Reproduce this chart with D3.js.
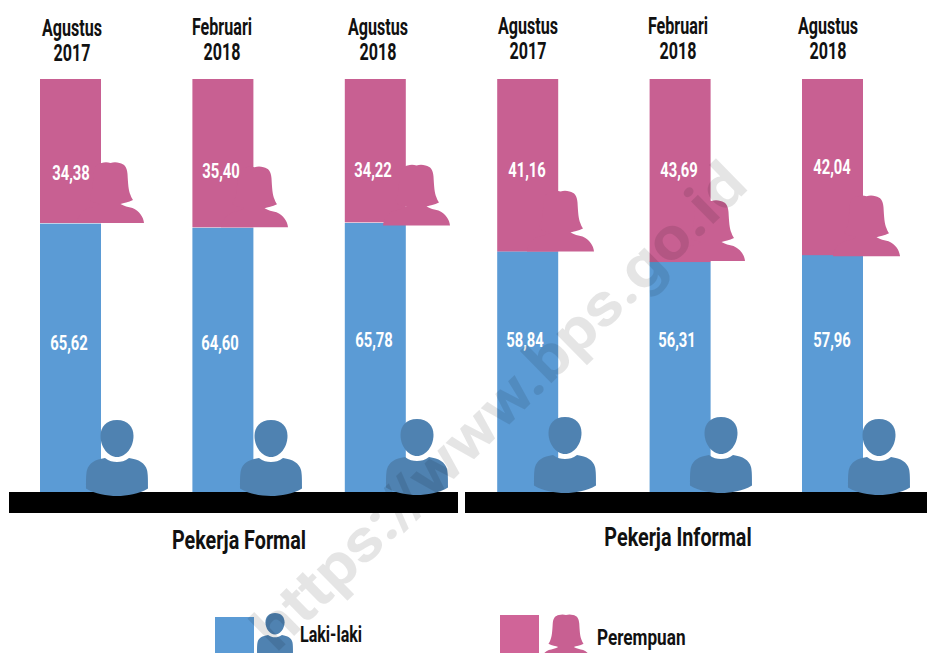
<!DOCTYPE html>
<html><head><meta charset="utf-8">
<script src="https://cdn.jsdelivr.net/npm/d3@7/dist/d3.min.js"></script>
<style>html,body{margin:0;padding:0;background:#fff;overflow:hidden}svg{display:block}
text{font-family:"Roboto",sans-serif;font-weight:700}</style>
</head><body><svg id="c" width="927" height="653"></svg>
<script>
const groups = ["Pekerja Formal","Pekerja Informal"];
const periodsTop = ["Agustus","Februari","Agustus","Agustus","Februari","Agustus"];
const periodsBottom = ["2017","2018","2018","2017","2018","2018"];
const male = [65.62,64.60,65.78,58.84,56.31,57.96];
const female = [34.38,35.40,34.22,41.16,43.69,42.04];
const maleLabels = ["65,62","64,60","65,78","58,84","56,31","57,96"];
const femaleLabels = ["34,38","35,40","34,22","41,16","43,69","42,04"];
const legendNames = ["Laki-laki","Perempuan"];
const watermark = "https://www.bps.go.id";

const BLUE="#5b9bd5", PINK="#c86092", MAN="#4f82b1", WOMAN="#c86092";
const svg=d3.select("#c");
const x=d3.scalePoint().domain(d3.range(6)).range([40,802]);
const bw=61;
const yM=d3.scaleLinear().domain([0,100]).range([492,83]);
const yF=d3.scaleLinear().domain([0,100]).range([79,498]);

// per-bar placement seen in the reference
const manCx=[117,271,417,565,721,879], manDy=[0,0,-1,-3,-3,-1];
const womanCx=[110.5,254.5,416.5,560.5,711.5,866.5], womanDy=[0,0,3,0,-1,1];
const topLx=[72,222,378,528,678,828], topDy=[1,0,0,-1,-1,-1];
const fLx=[71,221,373,527,679,832], fLy=[173,171,170,170,170,167];
const mLx=[69,220,374,525,677,832], mLy=[343,343,340,340,340,340];

const manHead="M0,0C-11,0 -16.5,7 -16.5,16C-16.5,27 -9,37 0,37C9,37 16.5,27 16.5,16C16.5,7 11,0 0,0Z";
const manBody="M-12,38C-8,41 -4,42 0,42C4,42 8,41 12,38C22,39.5 28,43 30,50C31,54 31,60 31,68.5C22,74 10,76 0,76C-10,76 -22,74 -31,68.5C-31,60 -31,54 -30,50C-28,43 -22,39.5 -12,38Z";
const womanPath="M0,0C3,-1 6,-1 9,0C14,1 16.5,4 17,11C17.5,20 18,28 20,32C21,35 22,36 22.5,37C18,39.5 13,40 10,41C13,43 18,44 22,45C29,48 33,54 33.5,60L-33.5,60C-33,54 -29,48 -22,45C-18,44 -13,43 -10,41C-13,40 -18,39.5 -22.5,37C-22,36 -21,35 -20,32C-18,28 -17.5,20 -17,11C-16.5,4 -14,1 -9,0C-6,-1 -3,-1 0,0Z";

const g=svg.append("g");
// bars
g.selectAll(".m").data(male).join("rect").attr("x",(d,i)=>x(i)).attr("width",bw).attr("y",d=>yM(d)).attr("height",d=>yM(0)-yM(d)).attr("fill",BLUE);
g.selectAll(".f").data(female).join("rect").attr("x",(d,i)=>x(i)).attr("width",bw).attr("y",yF(0)).attr("height",d=>yF(d)-yF(0)).attr("fill",PINK);
// baselines
[[9,458],[465,927]].forEach(r=>g.append("rect").attr("x",r[0]).attr("y",492).attr("width",r[1]-r[0]).attr("height",21).attr("fill","#000"));
// icons
female.forEach((d,i)=>{
  g.append("path").attr("d",womanPath).attr("fill",WOMAN).attr("transform",`translate(${womanCx[i]},${yF(d)-60+womanDy[i]})`);
  const t=`translate(${manCx[i]},${420+manDy[i]})`;
  g.append("path").attr("d",manHead).attr("fill",MAN).attr("transform",t);
  g.append("path").attr("d",manBody).attr("fill",MAN).attr("transform",t);
});
// labels (condensed by horizontal scaling)
const lbl=(s,xx,yy,size,fill,sx,anchor)=>g.append("text").text(s).attr("transform",`translate(${xx},${yy}) scale(${sx},1)`).attr("font-size",size).attr("fill",fill).attr("text-anchor",anchor||"middle").attr("dominant-baseline","central");
periodsTop.forEach((s,i)=>{lbl(s,topLx[i],27+topDy[i],23,"#111",.7);lbl(periodsBottom[i],topLx[i],52+topDy[i],23,"#111",.7);});
femaleLabels.forEach((s,i)=>lbl(s,fLx[i],fLy[i],20,"#fff",.74));
maleLabels.forEach((s,i)=>lbl(s,mLx[i],mLy[i],20,"#fff",.74));
lbl(groups[0],239,540,25,"#111",.79);lbl(groups[1],678,537,25,"#111",.79);
// legend
g.append("rect").attr("x",215).attr("y",617).attr("width",39).attr("height",36).attr("fill",BLUE);
g.append("rect").attr("x",500).attr("y",615).attr("width",39).attr("height",38).attr("fill","#d06498");
const lm="translate(275,613) scale(.58)";
g.append("path").attr("d",manHead).attr("fill",MAN).attr("transform",lm);
g.append("path").attr("d",manBody).attr("fill",MAN).attr("transform",lm);
g.append("path").attr("d",womanPath).attr("fill",WOMAN).attr("transform","translate(566,615) scale(.78)");
lbl(legendNames[0],300,635,22,"#111",.73,"start");
lbl(legendNames[1],597,638,22,"#111",.78,"start");
// watermark
svg.append("text").text(watermark).attr("transform","translate(499,406) rotate(-44.5)").attr("text-anchor","middle").attr("dominant-baseline","central")
  .attr("font-size",60).attr("fill","#000").attr("fill-opacity",.1).attr("textLength",664).attr("lengthAdjust","spacingAndGlyphs").style("font-family","Roboto,sans-serif").style("font-weight",700);
</script></body></html>
